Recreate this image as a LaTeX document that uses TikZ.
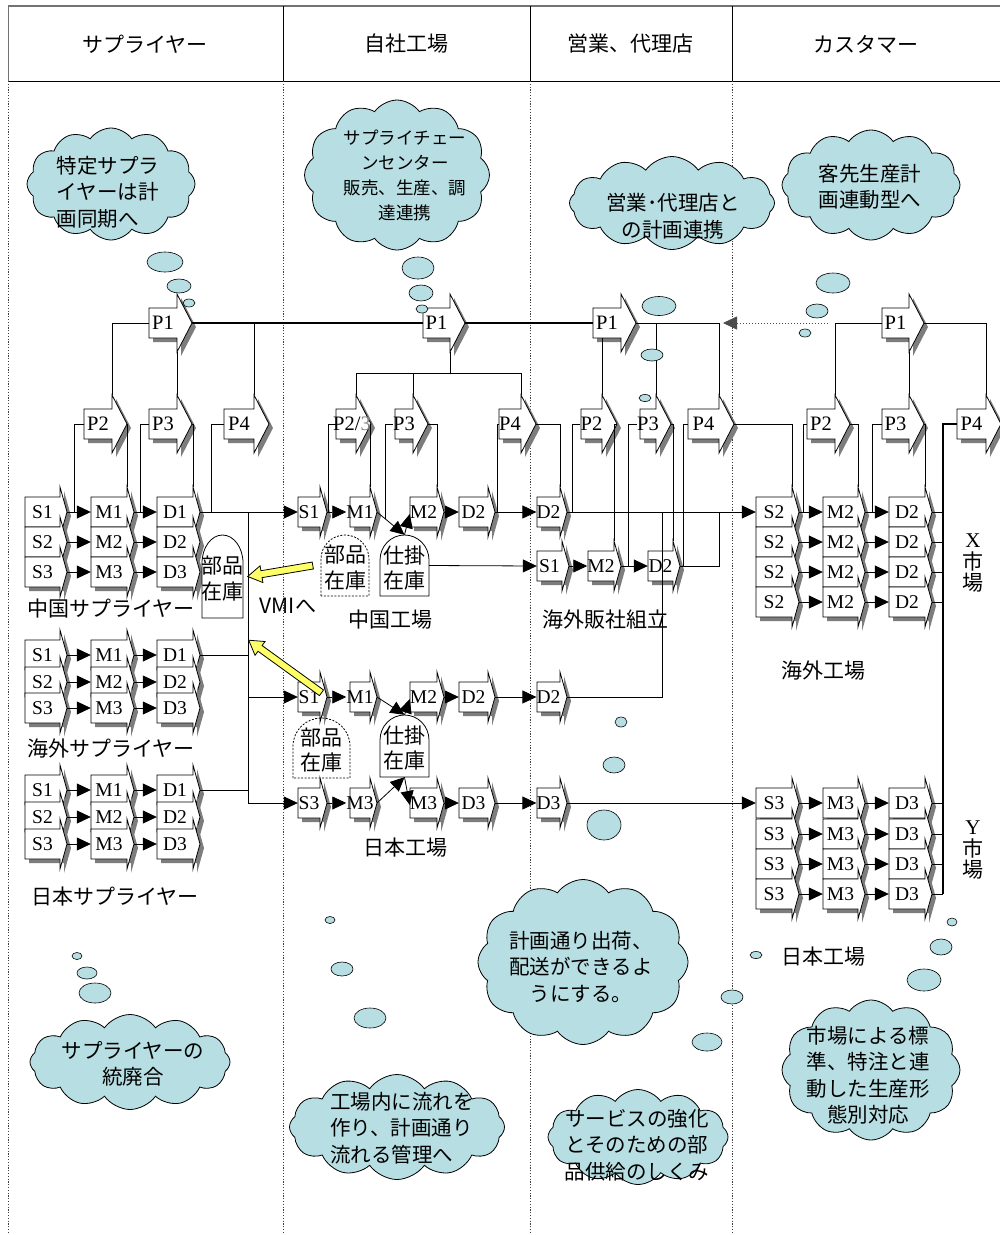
\documentclass[tikz,border=0pt]{standalone}
\usepackage{fontspec}
\setmainfont{Liberation Serif}
\newfontfamily\jp{Noto Sans CJK JP}
\usetikzlibrary{shapes.symbols,shapes.geometric,arrows.meta,calc}
\definecolor{cloudblue}{RGB}{183,222,226}
\definecolor{shgray}{RGB}{125,125,125}
\definecolor{yel}{RGB}{255,255,102}
\newcommand\jpf{\jp\fontsize{21}{25}\selectfont}
\tikzset{
  ln/.style={line width=0.8pt},
  arr/.style={-{Triangle[length=14pt,width=13pt]}},
  blktext/.style={inner sep=0pt,font=\fontsize{19.5}{19.5}\selectfont},
  jpt/.style={inner sep=0pt,font=\jpf},
  sepline/.style={line width=0.8pt,black!75,dash pattern=on 1.2pt off 1.6pt},
  cl/.style={cloud,cloud puffs=12,cloud puff arc=110,draw,ln,fill=cloudblue,inner sep=0pt},
  cltext/.style={inner sep=0pt,align=center,font=\jp\fontsize{20.5}{26.5}\selectfont},
  bub/.style={ellipse,draw,line width=0.6pt,fill=cloudblue,inner sep=0pt},
  boxn/.style={inner sep=0pt,font=\jpf}
}
\newcommand\blk[8]{%
  \fill[shgray,shift={(4pt,-4pt)}] ({#2-#4/2},{#3-#5/2}) -- ({#2+#4/2},{#3-#5/2}) -- ({#2+#4/2},{#3-#5/2-#6}) -- ({#2+#4/2+#7},{#3}) -- ({#2+#4/2},{#3+#5/2+#6}) -- ({#2+#4/2},{#3+#5/2}) -- ({#2-#4/2},{#3+#5/2}) -- cycle;
  \draw[ln,fill=white] ({#2-#4/2},{#3-#5/2}) -- ({#2+#4/2},{#3-#5/2}) -- ({#2+#4/2},{#3-#5/2-#6}) -- ({#2+#4/2+#7},{#3}) -- ({#2+#4/2},{#3+#5/2+#6}) -- ({#2+#4/2},{#3+#5/2}) -- ({#2-#4/2},{#3+#5/2}) -- cycle;
  \node[blktext,minimum width=#4pt,minimum height=#5pt] (#1) at (#2,#3) {#8};
  \coordinate (#1-tip) at ({#2+#4/2+#7},#3);
  \coordinate (#1-ht) at ({#2+#4/2},{#3-#5/2-#6});
  \coordinate (#1-hb) at ({#2+#4/2},{#3+#5/2+#6});
}
\newcommand\pblk[5]{\blk{#1}{#2}{#3}{#4}{30}{14}{15}{\fontsize{20.5}{20.5}\selectfont #5}}
\newcommand\sblk[5]{\blk{#1}{#2}{#3}{#4}{30}{10}{7}{#5}}
\newcommand\yarrow[2]{%
  \coordinate (#1h) at ($(#2)!14pt!(#1)$);
  \draw[ln,fill=yel] ($(#1)!3.5pt!90:(#2)$) -- ($(#1h)!3.5pt!90:(#2)$) -- ($(#1h)!8.5pt!90:(#2)$) -- (#2) -- ($(#1h)!8.5pt!-90:(#2)$) -- ($(#1h)!3.5pt!-90:(#2)$) -- ($(#1)!3.5pt!-90:(#2)$) -- cycle;
}
\newcommand\twol[2]{\raisebox{-5pt}[\height][\depth]{\begin{tabular}{@{}c@{}}#1\\#2\end{tabular}}}
\begin{document}
\begin{tikzpicture}[x=1pt,y=-1pt]
\useasboundingbox (0,0) rectangle (1000,1235);
\fill[white] (0,0) rectangle (1000,1235);
% ---------- header ----------
\draw[line width=2pt,black!55] (8,6) -- (1000,6);
\draw[line width=1pt] (8,81) -- (1000,81);
\draw[line width=1pt,black!55] (8,6) -- (8,81);
\foreach \x in {283,530,732} \draw[ln] (\x,6) -- (\x,81);
\foreach \x in {8,283,530,732} \draw[sepline] (\x,81) -- (\x,1232);
\node[jpt] (h1) at (145,44) {サプライヤー};
\node[jpt] (h2) at (406,44) {自社工場};
\node[jpt] (h3) at (630,44) {営業、代理店};
\node[jpt] (h4) at (866,44) {カスタマー};
% ---------- clouds ----------
\node[cl,aspect=1.5,minimum width=168pt,minimum height=112pt] (cl1) at (111,184) {};
\node[cltext,align=left] (cl1t) at (108,192) {特定サプラ\\イヤーは計\\画同期へ};
\node[cl,aspect=1.23,minimum width=185pt,minimum height=150pt] (cl2) at (397,175) {};
\node[cltext,font=\jp\fontsize{17.5}{25}\selectfont] (cl2t) at (405,175) {サプライチェー\\ンセンター\\販売、生産、調\\達連携};
\node[cl,aspect=2.2,minimum width=205pt,minimum height=93pt] (cl3) at (672,203) {};
\node[cltext] (cl3t) at (673,216) {営業･代理店と\\の計画連携};
\node[cl,aspect=1.62,minimum width=178pt,minimum height=110pt] (cl4) at (871,185) {};
\node[cltext] (cl4t) at (870,187) {客先生産計\\画連動型へ};
\node[cl,aspect=2.1,minimum width=200pt,minimum height=95pt] (cl5) at (130,1062) {};
\node[cltext] (cl5t) at (133,1064) {サプライヤーの\\統廃合};
\node[cl,aspect=2.05,minimum width=215pt,minimum height=105pt] (cl6) at (397,1127) {};
\node[cltext,align=left] (cl6t) at (402,1128) {工場内に流れを\\作り、計画通り\\流れる管理へ};
\node[cl,aspect=1.27,minimum width=210pt,minimum height=165pt] (cl7) at (583,962) {};
\node[cltext] (cl7t) at (581,967) {計画通り出荷、\\配送ができるよ\\うにする。};
\node[cl,aspect=1.9,minimum width=180pt,minimum height=95pt] (cl8) at (638,1137) {};
\node[cltext] (cl8t) at (637,1145) {サービスの強化\\とそのための部\\品供給のしくみ};
\node[cl,aspect=1.27,minimum width=178pt,minimum height=140pt] (cl9) at (871,1070) {};
\node[cltext] (cl9t) at (868,1075) {市場による標\\準、特注と連\\動した生産形\\態別対応};
% ---------- P blocks ----------
\pblk{sP1}{163}{323}{28}{P1}
\pblk{sP2}{98}{424}{28}{P2}
\pblk{sP3}{163}{424}{28}{P3}
\pblk{sP4}{239}{424}{30}{P4}
\pblk{fP1}{436.5}{323}{27}{P1}
\pblk{fP23}{346}{424}{20}{\makebox[20pt][c]{\hspace{12pt}P2/\textcolor{gray}{3}}}
\pblk{fP3}{404}{424}{18}{P3}
\pblk{fP4}{510}{424}{22}{P4}
\pblk{aP1}{607}{323}{28}{P1}
\pblk{aP2}{591.5}{424}{21}{P2}
\pblk{aP3}{648}{424}{16}{P3}
\pblk{aP4}{703.5}{424}{31}{P4}
\pblk{kP1}{895.5}{323}{27}{P1}
\pblk{kP2}{821}{424}{28}{P2}
\pblk{kP3}{895.5}{424}{27}{P3}
\pblk{kP4}{971.5}{424}{29}{P4}
% ---------- supplier stacks ----------
\foreach \p/\ya/\yb/\yc in {c/512/542/572,o/655/682/708,j/790/817/844}{
  \foreach \i/\y in {1/\ya,2/\yb,3/\yc}{
    \sblk{\p S\i}{42.5}{\y}{35}{S\i}
    \sblk{\p M\i}{109}{\y}{36}{M\i}
    \sblk{\p D\i}{175}{\y}{36}{D\i}
  }
}
\foreach \p in {c,o,j}{\foreach \i in {1,2,3}{
  \draw[ln,arr] (\p S\i-tip) -- (\p M\i.west);
  \draw[ln,arr] (\p M\i-tip) -- (\p D\i.west);}}
\node[jpt] (lcs) at (111,609) {中国サプライヤー};
\node[jpt] (los) at (111,748) {海外サプライヤー};
\node[jpt] (ljs) at (115,897) {日本サプライヤー};
% supplier parts stock
\draw[ln,fill=white] (202,618) -- (202,563) arc[start angle=180,end angle=0,x radius=20.5pt,y radius=28pt] -- (243,618) -- cycle;
\node[boxn,minimum width=41pt,minimum height=83pt] (sPart) at (222.5,576.5) {\twol{部品}{在庫}};
% ---------- factory ----------
\sblk{fcS1}{309}{512}{22}{S1}
\sblk{fcM1}{360}{512}{20}{M1}
\sblk{fcM2}{423.5}{512}{27}{M2}
\sblk{fcD2}{473.5}{512}{29}{D2}
\sblk{aD2a}{548.5}{512}{23}{D2}
\sblk{aS1}{549.5}{566}{25}{S1}
\sblk{aM2}{601}{566}{26}{M2}
\sblk{aD2b}{660.5}{566}{25}{D2}
\sblk{fjS1}{309}{697}{22}{S1}
\sblk{fjM1}{360}{697}{20}{M1}
\sblk{fjM2}{423.5}{697}{27}{M2}
\sblk{fjD2}{473.5}{697}{29}{D2}
\sblk{aD2c}{548.5}{697}{23}{D2}
\sblk{fjS3}{309}{803}{22}{S3}
\sblk{fjM3a}{360}{803}{20}{M3}
\sblk{fjM3b}{423.5}{803}{27}{M3}
\sblk{fjD3}{473.5}{803}{29}{D3}
\sblk{aD3}{548.5}{803}{23}{D3}
% WIP and parts stocks
\draw[ln,fill=white] (380,596) -- (380,560) arc[start angle=180,end angle=0,x radius=24.5pt,y radius=25pt] -- (429,596) -- cycle;
\node[boxn,minimum width=49pt,minimum height=61pt] (fcInv) at (404.5,565.5) {\twol{仕掛}{在庫}};
\draw[ln,dashed,dash pattern=on 2pt off 1.5pt] (321,596) -- (321,559) arc[start angle=180,end angle=0,x radius=24pt,y radius=24pt] -- (369,596) -- cycle;
\node[boxn,minimum width=48pt,minimum height=61pt] (fcPart) at (345,565.5) {\twol{部品}{在庫}};
\draw[ln,fill=white] (380,777) -- (380,740) arc[start angle=180,end angle=0,x radius=24.5pt,y radius=25pt] -- (429,777) -- cycle;
\node[boxn,minimum width=49pt,minimum height=62pt] (fjInv) at (404.5,746) {\twol{仕掛}{在庫}};
\draw[ln,dashed,dash pattern=on 2pt off 1.5pt] (293,778) -- (293,746) arc[start angle=180,end angle=0,x radius=28.5pt,y radius=28pt] -- (350,778) -- cycle;
\node[boxn,minimum width=57pt,minimum height=60pt] (fjPart) at (321.5,748) {\twol{部品}{在庫}};
\node[jpt] (lcf) at (390,620) {中国工場};
\node[jpt] (ljf) at (405,848) {日本工場};
\node[jpt] (lsa) at (605,620) {海外販社組立};
\node[jpt] (lvmi) at (288,606) {VMIへ};
% ---------- customer grids ----------
\foreach \i/\y in {1/512,2/542,3/572,4/602}{
  \sblk{kxS\i}{774}{\y}{36}{S2}
  \sblk{kxM\i}{840.5}{\y}{35}{M2}
  \sblk{kxD\i}{907}{\y}{36}{D2}
}
\foreach \i/\y in {1/803,2/834,3/864,4/894}{
  \sblk{kyS\i}{774}{\y}{36}{S3}
  \sblk{kyM\i}{840.5}{\y}{35}{M3}
  \sblk{kyD\i}{907}{\y}{36}{D3}
}
\coordinate (mbusB) at (943,894);
\foreach \p in {kx,ky}{\foreach \i in {1,...,4}{
  \draw[ln,arr] (\p S\i-tip) -- (\p M\i.west);
  \draw[ln,arr] (\p M\i-tip) -- (\p D\i.west);
  \draw[ln] (\p D\i-tip) -- (\p D\i-tip -| mbusB);}}
\node[jpt] (lkx) at (823,671) {海外工場};
\node[jpt] (lky) at (823,957) {日本工場};
\node[inner sep=0pt,align=center,font=\fontsize{21}{21.5}\selectfont] (mx) at (973,563) {X\\{\jp 市}\\{\jp 場}};
\node[inner sep=0pt,align=center,font=\fontsize{21}{21.5}\selectfont] (my) at (973,850) {Y\\{\jp 市}\\{\jp 場}};
% ---------- supplier P tree ----------
\draw[ln] (sP1.west) -| (sP2-ht);
\draw[ln] (sP1-hb) -- (sP3-ht);
\draw[ln] (sP1-tip) -| (sP4-ht);
\draw[line width=1.3pt] (sP1-tip) -- (fP1.west);
\draw[ln] (sP2.west) -| ($(cS1-tip)!0.33!(cM1.west)$);
\draw[ln] (sP2-tip) -| (cM1-ht);
\draw[ln] (sP3.west) -| ($(cM1-tip)!0.3!(cD1.west)$);
\draw[ln] (sP3-tip) -| (cD1-ht);
\draw[ln] (sP4.west) -| ($(cD1-tip)!0.12!(fcS1.west)$);
% supplier outputs
\coordinate (busT) at (248,512);
\coordinate (busB) at (248,803);
\draw[ln,arr] (cD1-tip) -- (fcS1.west);
\draw[ln] (busT) -- (busB);
\draw[ln] (oD1-tip) -- (oD1-tip -| busT);
\draw[ln] (jD1-tip) -- (jD1-tip -| busT);
\draw[ln,arr] (fjS1.west -| busT) -- (fjS1.west);
\draw[ln,arr] (fjS3.west -| busT) -- (fjS3.west);
% ---------- factory flows ----------
\draw[ln,arr] (fcS1-tip) -- (fcM1.west);
\draw[ln,arr] (fcM1-tip) -- (fcInv.north);
\draw[ln,arr] (fcInv.north) -- ([yshift=-2pt]fcM2.west);
\draw[ln,arr] (fcM2-tip) -- (fcD2.west);
\draw[ln,arr] (fcD2-tip) -- (aD2a.west);
\draw[ln,arr] (fcInv.east) -- (aS1.west);
\draw[ln,arr] (aS1-tip) -- (aM2.west);
\draw[ln,arr] (aM2-tip) -- (aD2b.west);
\draw[ln,arr] (fjS1-tip) -- (fjM1.west);
\draw[ln,arr] (fjM1-tip) -- (fjInv.north);
\draw[ln,arr] (fjInv.north) -- ([yshift=-2pt]fjM2.west);
\draw[ln,arr] (fjM2-tip) -- (fjD2.west);
\draw[ln,arr] (fjD2-tip) -- (aD2c.west);
\draw[ln,arr] (fjS3-tip) -- (fjM3a.west);
\draw[ln,arr] (fjM3a-tip) -- (fjInv.south);
\draw[ln,arr] (fjInv.south) -- ([yshift=-2pt]fjM3b.west);
\draw[ln,arr] (fjM3b-tip) -- (fjD3.west);
\draw[ln,arr] (fjD3-tip) -- (aD3.west);
% ---------- factory P tree ----------
\draw[line width=1.3pt] (fP1-tip) -- (aP1.west);
\coordinate (fbar) at (450,373);
\draw[ln] (fP1-hb) -- (fbar);
\draw[ln] (fP23-ht) -- (fP23-ht |- fbar) -- (fP4-ht |- fbar) -- (fP4-ht);
\draw[ln] (fP3-ht) -- (fP3-ht |- fbar);
\draw[ln] (fP23.west) -| ($(fcS1-tip)!0.05!(fcM1.west)$);
\draw[ln] (fP23-tip) -| (fcM1-ht);
\draw[ln] (fP3.west) -| ($(fcM1-tip)!0.3!(fcInv.north)$);
\draw[ln] (fP3-tip) -| (fcM2-ht);
\draw[ln] (fP4.west) -| ($(fcD2-tip)!0.05!(aD2a.west)$);
\draw[ln] (fP4-tip) -| (aD2a-ht);
% ---------- sales ----------
\draw[ln,arr] (aD2a-tip) -- (kxS1.west);
\coordinate (j2) at (aD2b-tip -| aP4-ht);
\draw[ln] (aD2b-tip) -- (j2) -- (j2 |- aD2a-tip);
\coordinate (jn) at (662,512);
\draw[ln] (aD2c-tip) -| (jn);
\draw[ln,arr] (aD3-tip) -- (kyS1.west);
\draw[ln] (aP2-ht |- aP1.south) -- (aP2-ht);
\draw[ln] (aP1-tip) -| (aP4-ht);
\draw[ln] (aP3-ht |- aP1-tip) -- (aP3-ht);
\draw[ln] (aP2.west) -| ($(aD2a-tip)!0.03!(kxS1.west)$);
\draw[ln] (aP2-tip) -| (aM2-ht);
\draw[ln] (aP3.west) -| ($(aM2-tip)!0.26!(aD2b.west)$);
\draw[ln] (aP3-tip) -| (aD2b-ht);
\draw[ln] (aP4.west) -| ($(aD2b-tip)!0.08!(j2)$);
\draw[ln] (aP4-tip) -| (kxS1-ht);
\coordinate (dA) at (kP1.west -| kP2-ht);
\coordinate (dB) at (kP1.west -| aP4-ht);
\draw[line width=0.8pt,black!70,dash pattern=on 1.5pt off 1.5pt,arr] ([xshift=-7pt]dA) -- ([xshift=4pt]dB);
% ---------- customer P tree ----------
\draw[ln] (kP1.west) -| (kP2-ht);
\draw[ln] (kP1-hb) -- (kP3-ht);
\draw[ln] (kP1-tip) -| (kP4-ht);
\draw[ln] (kP2.west) -| ($(kxS1-tip)!0.17!(kxM1.west)$);
\draw[ln] (kP2-tip) -| (kxM1-ht);
\draw[ln] (kP3.west) -| ($(kxM1-tip)!0.33!(kxD1.west)$);
\draw[ln] (kP3-tip) -| (kxD1-ht);
\draw[line width=1.5pt] (kP4.west) -| (mbusB);
% ---------- yellow VMI arrows ----------
\coordinate (yA1) at ([xshift=-8pt]fcPart.west);
\coordinate (yB1) at ([xshift=4pt]sPart.east);
\yarrow{yA1}{yB1}
\coordinate (yA2) at ([yshift=25pt]fjPart.north);
\coordinate (yB2) at ($(sPart.south east)+(5,22)$);
\yarrow{yA2}{yB2}
% ---------- thought bubbles ----------
\node[bub,minimum width=36pt,minimum height=20pt] (b1) at (165,262) {};
\node[bub,minimum width=24pt,minimum height=14pt] (b2) at (179,286) {};
\node[bub,minimum width=12pt,minimum height=8pt] (b3) at (189,303) {};
\node[bub,minimum width=32pt,minimum height=22pt] (b4) at (418,268) {};
\node[bub,minimum width=24pt,minimum height=16pt] (b5) at (421,293) {};
\node[bub,minimum width=12pt,minimum height=8pt] (b6) at (422,309) {};
\node[bub,minimum width=34pt,minimum height=19pt] (b7) at (659,306) {};
\node[bub,minimum width=22pt,minimum height=12pt] (b8) at (652,355) {};
\node[bub,minimum width=12pt,minimum height=7pt] (b9) at (645,398) {};
\node[bub,minimum width=34pt,minimum height=20pt] (b10) at (833,283) {};
\node[bub,minimum width=22pt,minimum height=14pt] (b11) at (817,311) {};
\node[bub,minimum width=12pt,minimum height=8pt] (b12) at (805,333) {};
\node[bub,minimum width=10pt,minimum height=7pt] (b13) at (77,956) {};
\node[bub,minimum width=20pt,minimum height=12pt] (b14) at (87,973) {};
\node[bub,minimum width=32pt,minimum height=20pt] (b15) at (95,993) {};
\node[bub,minimum width=10pt,minimum height=7pt] (b16) at (330,920) {};
\node[bub,minimum width=22pt,minimum height=14pt] (b17) at (342,969) {};
\node[bub,minimum width=32pt,minimum height=20pt] (b18) at (370,1018) {};
\node[bub,minimum width=12pt,minimum height=10pt] (b19) at (621,722) {};
\node[bub,minimum width=22pt,minimum height=16pt] (b20) at (614,765) {};
\node[bub,minimum width=34pt,minimum height=30pt] (b21) at (604,825) {};
\node[bub,minimum width=22pt,minimum height=14pt] (b22) at (732,997) {};
\node[bub,minimum width=30pt,minimum height=18pt] (b23) at (707,1042) {};
\node[bub,minimum width=10pt,minimum height=8pt] (b24) at (952,922) {};
\node[bub,minimum width=22pt,minimum height=16pt] (b25) at (941,947) {};
\node[bub,minimum width=34pt,minimum height=22pt] (b26) at (924,980) {};
\node[bub,minimum width=12pt,minimum height=7pt] (b27) at (756,955) {};
\end{tikzpicture}
\end{document}
